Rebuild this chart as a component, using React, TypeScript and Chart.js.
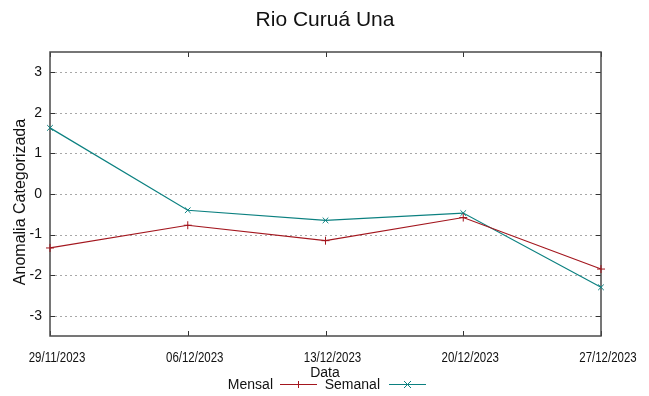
import React, { useEffect, useRef } from "react";
import { Chart, registerables } from "chart.js";

Chart.register(...registerables);

const categories = ["29/11/2023", "06/12/2023", "13/12/2023", "20/12/2023", "27/12/2023"];
const mensal = [-1.33, -0.77, -1.15, -0.58, -1.85];
const semanal = [1.63, -0.4, -0.65, -0.47, -2.3];
const yTicks = [-3, -2, -1, 0, 1, 2, 3];

const TITLE = "Rio Curuá Una";
const X_TITLE = "Data";
const Y_TITLE = "Anomalia Categorizada";

const RED = "#a3161e";
const TEAL = "#0b8080";
const REG = "'Liberation Sans', Arial, sans-serif";

function drawMarker(ctx: CanvasRenderingContext2D, style: string, x: number, y: number, r: number, color: string) {
  ctx.save();
  ctx.strokeStyle = color;
  ctx.lineWidth = 1;
  ctx.beginPath();
  if (style === "cross") {
    ctx.moveTo(x - r, y);
    ctx.lineTo(x + r, y);
    ctx.moveTo(x, y - r);
    ctx.lineTo(x, y + r);
  } else {
    ctx.moveTo(x - r, y - r);
    ctx.lineTo(x + r, y + r);
    ctx.moveTo(x - r, y + r);
    ctx.lineTo(x + r, y - r);
  }
  ctx.stroke();
  ctx.restore();
}

const framePlugin = {
  id: "gnuFrame",
  beforeDatasetsDraw(chart: any) {
    const { ctx, chartArea } = chart;
    const { left, right, top, bottom } = chartArea;
    const ys = chart.scales.y;
    const xs = chart.scales.x;
    ctx.save();
    // dotted grid
    ctx.strokeStyle = "#a8a8a8";
    ctx.lineWidth = 1;
    ctx.setLineDash([2, 3]);
    yTicks.forEach((v) => {
      const py = Math.round(ys.getPixelForValue(v)) + 0.5;
      ctx.beginPath();
      ctx.moveTo(left, py);
      ctx.lineTo(right, py);
      ctx.stroke();
    });
    ctx.setLineDash([]);
    // inner ticks
    ctx.strokeStyle = "#333";
    yTicks.forEach((v) => {
      const py = Math.round(ys.getPixelForValue(v)) + 0.5;
      ctx.beginPath();
      ctx.moveTo(left, py);
      ctx.lineTo(left + 5, py);
      ctx.moveTo(right, py);
      ctx.lineTo(right - 5, py);
      ctx.stroke();
    });
    categories.forEach((_, i) => {
      const px = Math.round(xs.getPixelForValue(i)) + 0.5;
      ctx.beginPath();
      ctx.moveTo(px, bottom);
      ctx.lineTo(px, bottom - 5);
      ctx.moveTo(px, top);
      ctx.lineTo(px, top + 5);
      ctx.stroke();
    });
    // frame
    ctx.strokeStyle = "#4a4a4a";
    ctx.lineWidth = 1.5;
    ctx.strokeRect(left, top, right - left, bottom - top);
    ctx.restore();
  },
  afterDraw(chart: any) {
    const { ctx, chartArea } = chart;
    const xs = chart.scales.x;
    ctx.save();
    ctx.fillStyle = "#111";
    // title
    ctx.font = `21px ${REG}`;
    ctx.textAlign = "center";
    ctx.textBaseline = "alphabetic";
    ctx.fillText(TITLE, 325, 26);
    // x tick labels (condensed)
    ctx.font = `14px ${REG}`;
    categories.forEach((lab, i) => {
      const px = xs.getPixelForValue(i) + 7;
      ctx.save();
      ctx.translate(px, 361.5);
      ctx.scale(0.82, 1);
      ctx.textAlign = "center";
      ctx.fillText(lab, 0, 0);
      ctx.restore();
    });
    // x title
    ctx.fillText(X_TITLE, 325, 376.5);
    // y title
    ctx.save();
    ctx.translate(25, (chartArea.top + chartArea.bottom) / 2 + 8);
    ctx.rotate(-Math.PI / 2);
    ctx.font = `16px ${REG}`;
    ctx.textAlign = "center";
    ctx.fillText(Y_TITLE, 0, 0);
    ctx.restore();
    // legend
    const items = chart.data.datasets.map((d: any, i: number) => ({
      label: d.label,
      color: d.borderColor,
      style: d.pointStyle,
      textRight: i === 0 ? 273 : 380,
      lineStart: i === 0 ? 280 : 389,
    }));
    ctx.font = `14px ${REG}`;
    ctx.textAlign = "right";
    items.forEach((it: any) => {
      ctx.fillStyle = "#111";
      ctx.fillText(it.label, it.textRight, 388.5);
      ctx.strokeStyle = it.color;
      ctx.lineWidth = 1;
      ctx.beginPath();
      ctx.moveTo(it.lineStart, 384.5);
      ctx.lineTo(it.lineStart + 37, 384.5);
      ctx.stroke();
      drawMarker(ctx, it.style, it.lineStart + 18.5, 384.5, 3.5, it.color);
    });
    ctx.restore();
  },
};

export default function App() {
  const ref = useRef<HTMLCanvasElement | null>(null);
  useEffect(() => {
    document.body.style.margin = "0";
    const canvas = ref.current;
    if (!canvas) return;
    const chart = new Chart(canvas, {
      type: "line",
      data: {
        labels: categories,
        datasets: [
          {
            label: "Mensal",
            data: mensal,
            borderColor: RED,
            backgroundColor: RED,
            borderWidth: 1.2,
            pointStyle: "cross",
            pointRadius: 4,
            pointBorderWidth: 1,
            pointBorderColor: RED,
            tension: 0,
            fill: false,
          },
          {
            label: "Semanal",
            data: semanal,
            borderColor: TEAL,
            backgroundColor: TEAL,
            borderWidth: 1.2,
            pointStyle: "crossRot",
            pointRadius: 4,
            pointBorderWidth: 1,
            pointBorderColor: TEAL,
            tension: 0,
            fill: false,
          },
        ],
      },
      options: {
        responsive: false,
        animation: false,
        events: [],
        layout: { padding: { left: 0, right: 48, top: 52, bottom: 0 } },
        plugins: {
          legend: { display: false },
          title: { display: false },
          tooltip: { enabled: false },
        },
        scales: {
          x: {
            type: "category",
            offset: false,
            grid: { display: false, drawTicks: false },
            border: { display: false },
            ticks: { display: false, autoSkip: false, maxRotation: 0 },
            afterFit: (s: any) => {
              s.height = 60;
            },
          },
          y: {
            type: "linear",
            min: -3.5,
            max: 3.5,
            grid: { display: false, drawTicks: false },
            border: { display: false },
            ticks: {
              color: "#111",
              font: { family: REG, size: 14 },
              padding: 8,
            },
            afterBuildTicks: (s: any) => {
              s.ticks = yTicks.map((v) => ({ value: v }));
            },
            afterFit: (s: any) => {
              s.width = 50;
            },
          },
        },
      },
      plugins: [framePlugin],
    });
    return () => chart.destroy();
  }, []);
  return <canvas ref={ref} width={649} height={396} style={{ display: "block" }} />;
}
